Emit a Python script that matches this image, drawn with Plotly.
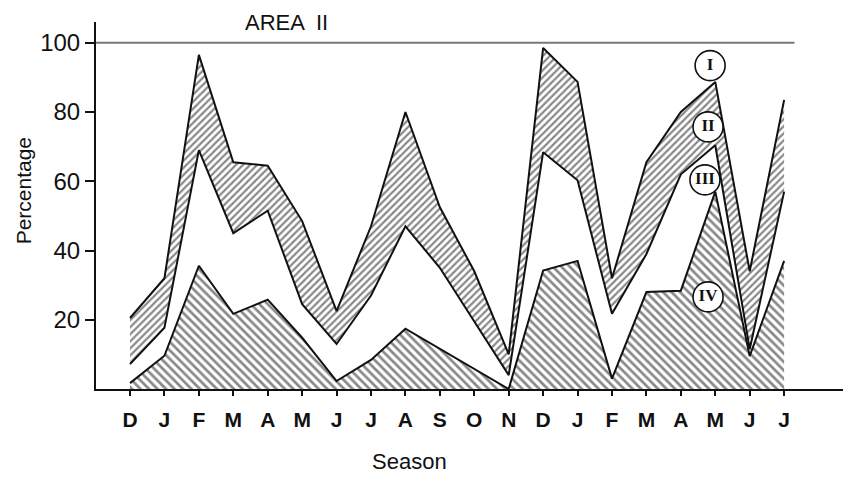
import plotly.graph_objects as go

# Seasonal composition, Area II: cumulative boundaries of four classes (percent)
months = ["D", "J", "F", "M", "A", "M", "J", "J", "A", "S", "O", "N",
          "D", "J", "F", "M", "A", "M", "J", "J"]
upper = [20.5, 32, 96.5, 65.5, 64.5, 48.5, 22.5, 47, 80, 52.5, 34, 10,
         98.5, 88.7, 32, 65.5, 80, 88.7, 34, 83.5]
middle = [7.2, 17.7, 69, 45, 51.5, 24.5, 13, 27, 47, 35, 19.5, 4,
          68.4, 60.3, 21.7, 39, 62, 70.4, 11.5, 57]
lower = [1.7, 9.6, 35.6, 21.7, 25.8, 14.8, 2.3, 8.4, 17.4, 11.6, 5.8, 0,
         34.2, 37, 3, 28, 28.4, 57, 9.5, 37]
ceiling = 100
yticks = [20, 40, 60, 80, 100]

x = list(range(len(months)))
ink = "#111111"

fig = go.Figure()

# class IV: area under the lowest boundary
fig.add_trace(go.Scatter(
    x=x, y=lower, mode="lines", line=dict(color=ink, width=2),
    fill="tozeroy", fillcolor="white",
    fillpattern=dict(shape="\\", fgcolor=ink, bgcolor="white", size=6, solidity=0.45),
    hoverinfo="skip", showlegend=False))

# class II: band between the middle and upper boundaries
fig.add_trace(go.Scatter(
    x=x, y=middle, mode="lines", line=dict(color=ink, width=2),
    hoverinfo="skip", showlegend=False))
fig.add_trace(go.Scatter(
    x=x, y=upper, mode="lines", line=dict(color=ink, width=2),
    fill="tonexty", fillcolor="white",
    fillpattern=dict(shape="/", fgcolor=ink, bgcolor="white", size=5, solidity=0.45),
    hoverinfo="skip", showlegend=False))

# 100 % reference line
fig.add_trace(go.Scatter(
    x=[-1, x[-1] + 0.3], y=[ceiling, ceiling], mode="lines",
    line=dict(color="#777777", width=2), hoverinfo="skip", showlegend=False))

# circled class numerals
numerals = [("I", 16.85, 93.4), ("II", 16.79, 75.7), ("III", 16.7, 60.4), ("IV", 16.79, 26.6)]
fig.add_trace(go.Scatter(
    x=[n[1] for n in numerals], y=[n[2] for n in numerals],
    mode="markers+text", text=[n[0] for n in numerals],
    textposition="middle center",
    textfont=dict(family="Liberation Serif", size=17, color=ink, weight="bold"),
    marker=dict(symbol="circle", size=30, color="white", line=dict(color=ink, width=1.6)),
    hoverinfo="skip", showlegend=False))

fig.update_layout(
    width=843, height=479,
    margin=dict(l=96, r=0, t=22, b=90),
    paper_bgcolor="white", plot_bgcolor="white",
    font=dict(family="Liberation Sans", color=ink),
    annotations=[
        dict(text="AREA  II", xref="paper", yref="paper", x=0.255, y=1.0,
             xanchor="center", yanchor="middle", showarrow=False,
             font=dict(size=22, color=ink)),
        dict(text="Season", xref="paper", yref="paper", x=0.42, y=-0.198,
             xanchor="center", yanchor="middle", showarrow=False,
             font=dict(size=22, color=ink)),
        dict(text="Percentage", xref="paper", yref="paper", x=-0.097, y=0.54,
             xanchor="center", yanchor="middle", showarrow=False, textangle=-90,
             font=dict(size=21, color=ink)),
    ],
)

fig.update_xaxes(
    range=[-0.988, 20.71], tickmode="array", tickvals=x, ticktext=months,
    showgrid=False, zeroline=False, showline=True, linecolor=ink, linewidth=2,
    ticks="outside", ticklen=5, tickwidth=1.5, tickcolor=ink,
    tickfont=dict(size=21, color=ink, weight="bold"), ticklabelstandoff=6)

fig.update_yaxes(
    range=[0, 106], tickmode="array", tickvals=yticks,
    showgrid=False, zeroline=False, showline=True, linecolor=ink, linewidth=2,
    ticks="outside", ticklen=9, tickwidth=1.5, tickcolor=ink,
    tickfont=dict(size=24, color=ink))

fig.write_html("out.html")
